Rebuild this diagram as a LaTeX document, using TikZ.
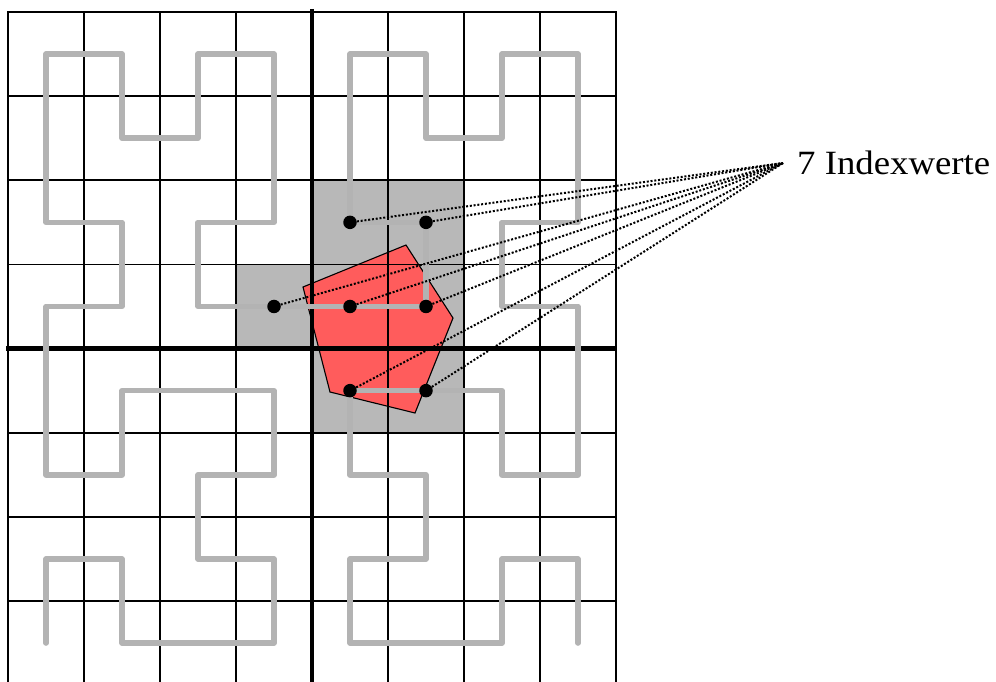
\documentclass[tikz,border=0pt]{standalone}
\usepackage{fontspec}
\usepackage{graphicx}
\setmainfont{Liberation Serif}
\definecolor{curvegray}{RGB}{179,179,179}
\definecolor{cellgray}{RGB}{184,184,184}
\definecolor{areared}{RGB}{255,92,92}
\tikzset{
  gridline/.style={line width=1.8pt, line cap=rect},
  axisline/.style={line width=4.5pt},
  hilbert/.style={draw=curvegray, line width=5.5pt, line join=round, line cap=round},
  cellfill/.style={fill=cellgray},
  region/.style={fill=areared, draw=black, line width=1.1pt, line join=miter},
  cellpoint/.style={circle, fill=black, inner sep=0pt, minimum size=13.5pt},
  indexline/.style={line width=2pt, dash pattern=on 2pt off 1.8pt},
  cellgrid/.style={shift={(8pt,-12pt)}, x=76pt, y=-84.14pt},
}
\begin{document}
\begin{tikzpicture}[x=1pt,y=-1pt]
\useasboundingbox (0,0) rectangle (996,681);
\clip (0,0) rectangle (996,681);

% cells hit by the query region
\begin{scope}[cellgrid]
  \foreach \c/\r in {3/3,4/2,5/2,4/3,5/3,4/4,5/4}
    \fill[cellfill] (\c,\r) rectangle ++(1,1);
\end{scope}

% query region
\draw[region] (303,287) -- (406,245) -- (453,318) -- (415,413) -- (330,392) -- cycle;

\begin{scope}[cellgrid]
  % 8x8 grid
  \foreach \c in {0,...,8}
    \draw[gridline] (\c,0) -- (\c,8.2);
  \foreach \r in {0,...,7}
    \draw[gridline] (0,\r) -- (8,\r);
  % quadrant borders
  \draw[axisline] (4,-0.036) -- (4,8.2);
  \draw[axisline] (-0.026,4) -- (8,4);

  \begin{scope}[shift={(0.5,0.5)}]
    % Hilbert curve of order 3 through the cell centres
    \draw[hilbert] (0,7) -- (0,6) -- (1,6) -- (1,7) -- (2,7) -- (3,7) -- (3,6) -- (2,6)
      -- (2,5) -- (3,5) -- (3,4) -- (2,4) -- (1,4) -- (1,5) -- (0,5) -- (0,4)
      -- (0,3) -- (1,3) -- (1,2) -- (0,2) -- (0,1) -- (0,0) -- (1,0) -- (1,1)
      -- (2,1) -- (2,0) -- (3,0) -- (3,1) -- (3,2) -- (2,2) -- (2,3) -- (3,3)
      -- (4,3) -- (5,3) -- (5,2) -- (4,2) -- (4,1) -- (4,0) -- (5,0) -- (5,1)
      -- (6,1) -- (6,0) -- (7,0) -- (7,1) -- (7,2) -- (6,2) -- (6,3) -- (7,3)
      -- (7,4) -- (7,5) -- (6,5) -- (6,4) -- (5,4) -- (4,4) -- (4,5) -- (5,5)
      -- (5,6) -- (4,6) -- (4,7) -- (5,7) -- (6,7) -- (6,6) -- (7,6) -- (7,7);

    % index points of the selected cells
    \node[cellpoint] (p1) at (4,2) {};
    \node[cellpoint] (p2) at (5,2) {};
    \node[cellpoint] (p3) at (3,3) {};
    \node[cellpoint] (p4) at (4,3) {};
    \node[cellpoint] (p5) at (5,3) {};
    \node[cellpoint] (p6) at (4,4) {};
    \node[cellpoint] (p7) at (5,4) {};
  \end{scope}
\end{scope}

% label and its leader lines
\coordinate (hub) at (783,163);
\node[anchor=base west, inner sep=0pt, font=\fontsize{34}{38}\selectfont] (lbl) at (797,174)
  {\resizebox{193pt}{\height}{7 Indexwerte}};
\foreach \p in {p1,p2,p3,p4,p5,p6,p7}
  \draw[indexline] (\p) -- (hub);
\end{tikzpicture}
\end{document}
